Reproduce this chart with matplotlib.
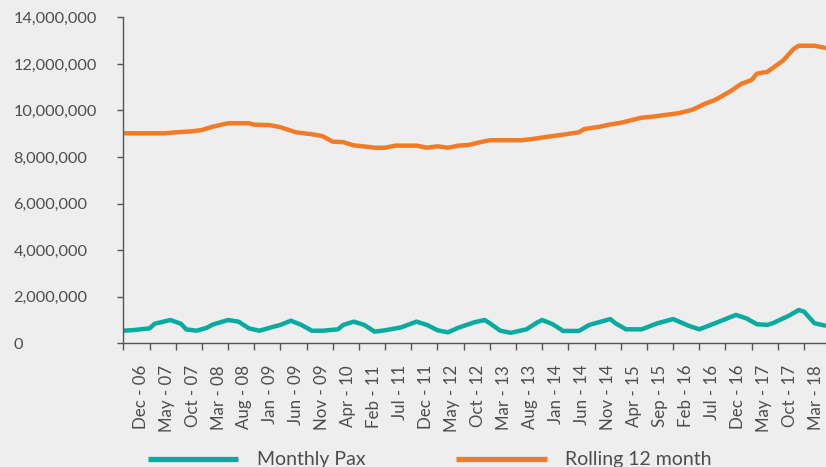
import matplotlib.pyplot as plt
import numpy as np
from matplotlib.ticker import FuncFormatter

plt.rcParams['font.family'] = ['Lato', 'DejaVu Sans']

# category labels, one every 5 months on the axis
month_labels = ['Dec - 06', 'May - 07', 'Oct - 07', 'Mar - 08', 'Aug - 08', 'Jan - 09',
                'Jun - 09', 'Nov - 09', 'Apr - 10', 'Feb - 11', 'Jul - 11', 'Dec - 11',
                'May - 12', 'Oct - 12', 'Mar - 13', 'Aug - 13', 'Jan - 14', 'Jun - 14',
                'Nov - 14', 'Apr - 15', 'Sep - 15', 'Feb - 16', 'Jul - 16', 'Dec - 16',
                'May - 17', 'Oct - 17', 'Mar - 18']

# monthly passengers (month index, value)
pax_month = [0, 2, 5, 6, 9, 11, 12, 14, 16, 17, 20, 22, 24, 26, 28, 30, 32, 34, 36, 38,
             40, 41, 42, 44, 46, 48, 50, 53, 56, 58, 60, 62, 64, 67, 69, 70, 72, 74, 77,
             79, 80, 82, 84, 87, 89, 93, 94, 96, 99, 102, 105, 108, 110, 113, 115, 117,
             119, 121, 123, 124, 127, 129, 130, 132, 134]
pax = [0.54, 0.57, 0.64, 0.84, 1.00, 0.84, 0.60, 0.54, 0.67, 0.80, 1.00, 0.93, 0.64,
       0.54, 0.67, 0.79, 0.97, 0.79, 0.54, 0.54, 0.58, 0.60, 0.79, 0.93, 0.79, 0.50,
       0.56, 0.68, 0.93, 0.79, 0.56, 0.47, 0.67, 0.90, 1.00, 0.86, 0.54, 0.45, 0.60,
       0.89, 1.00, 0.82, 0.53, 0.53, 0.79, 1.04, 0.86, 0.60, 0.60, 0.86, 1.04, 0.75,
       0.60, 0.86, 1.04, 1.22, 1.07, 0.82, 0.79, 0.86, 1.17, 1.43, 1.36, 0.86, 0.76]

# rolling 12 month total (month index, value)
roll_month = [0, 8, 10, 13, 15, 17, 18, 20, 24, 25, 28, 30, 33, 36, 38, 40, 42, 44, 45,
              48, 50, 52, 56, 58, 60, 62, 64, 66, 68, 70, 76, 78, 81, 83, 87, 88, 91, 93,
              95, 99, 101, 106, 108, 109, 111, 113, 116, 118, 120, 121, 123, 126, 128,
              129, 132, 134]
roll = [9.02, 9.02, 9.06, 9.10, 9.16, 9.30, 9.35, 9.45, 9.45, 9.39, 9.37, 9.28, 9.06,
        8.98, 8.90, 8.66, 8.64, 8.50, 8.48, 8.40, 8.40, 8.49, 8.49, 8.40, 8.46, 8.40,
        8.49, 8.52, 8.63, 8.72, 8.72, 8.77, 8.87, 8.93, 9.06, 9.20, 9.30, 9.40, 9.47,
        9.69, 9.73, 9.88, 9.99, 10.06, 10.28, 10.45, 10.83, 11.14, 11.31, 11.58, 11.66,
        12.14, 12.64, 12.78, 12.78, 12.69]

bg = '#eeeeee'
teal = '#0aab9f'
orange = '#f27b28'
grey = '#555555'
txt = '#4d4d4d'

fig = plt.figure(figsize=(8.26, 4.67), dpi=100, facecolor=bg)
ax = fig.add_axes([0.1493, 0.2649, 0.8507, 0.698], facecolor=bg)

l1, = ax.plot(pax_month, np.array(pax) * 1e6, color=teal, lw=3.2,
              solid_joinstyle='round', solid_capstyle='round')
l2, = ax.plot(roll_month, np.array(roll) * 1e6, color=orange, lw=3.2,
              solid_joinstyle='round', solid_capstyle='round')

ax.set_ylim(0, 14e6)
ax.set_xlim(0, 134.2)

for s in ['top', 'right']:
    ax.spines[s].set_visible(False)
for s in ['left', 'bottom']:
    ax.spines[s].set_color(grey)
    ax.spines[s].set_linewidth(1)

# y axis
ax.set_yticks(np.arange(0, 14e6 + 1, 2e6))
ax.yaxis.set_major_formatter(FuncFormatter(lambda v, p: '{:,.0f}'.format(v)))
ax.tick_params(axis='y', length=4.3, width=1, color=grey, labelcolor=txt,
               labelsize=11.7, pad=74.9)
for lab in ax.get_yticklabels():
    lab.set_ha('left')

# x axis: tick marks every 5 months, labels sit a little right of each mark
ax.set_xticks(np.arange(0, 131, 5))
ax.set_xticklabels([])
ax.tick_params(axis='x', which='major', length=5.3, width=1, color=grey)
ax.set_xticks(np.arange(len(month_labels)) * 4.96 + 3.3, minor=True)
ax.set_xticklabels(month_labels, minor=True, rotation=90)
ax.tick_params(axis='x', which='minor', length=0, pad=15.6, labelcolor=txt,
               labelsize=12.2)

leg = fig.legend([l1, l2], ['Monthly Pax', 'Rolling 12 month'], loc='center left',
                 bbox_to_anchor=(0.1788, 0.0150), ncol=2, frameon=False, fontsize=14,
                 handlelength=4.67, handletextpad=0.95, columnspacing=4.64,
                 borderpad=0, borderaxespad=0)
for t in leg.get_texts():
    t.set_color(txt)
for h in leg.get_lines():
    h.set_linewidth(3.8)
    h.set_solid_capstyle('butt')

fig.savefig('out.png', dpi=100, facecolor=bg)
